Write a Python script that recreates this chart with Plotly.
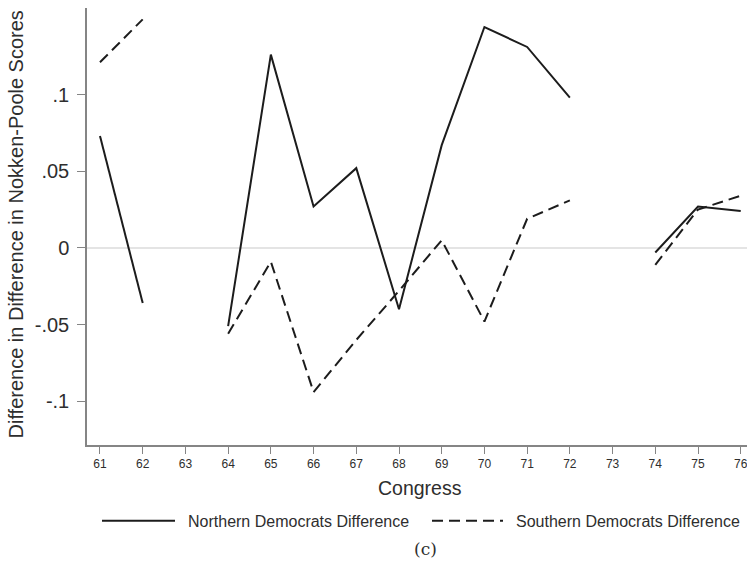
import plotly.graph_objects as go

# Congress numbers and the two difference series (None = no data for that Congress)
congress = [61, 62, 63, 64, 65, 66, 67, 68, 69, 70, 71, 72, 73, 74, 75, 76]
northern = [0.073, -0.036, None, -0.051, 0.126, 0.027, 0.052, -0.040, 0.067,
            0.144, 0.131, 0.098, None, -0.003, 0.027, 0.024]
southern = [0.121, 0.149, None, -0.056, -0.009, -0.094, -0.060, -0.028, 0.005,
            -0.048, 0.019, 0.031, None, -0.011, 0.025, 0.034]

y_ticks = [-0.1, -0.05, 0, 0.05, 0.1]
y_tick_labels = ["-.1", "-.05", "0", ".05", ".1"]

series_names = ["Northern Democrats Difference", "Southern Democrats Difference"]

LINE = "#1c1c1c"
AXIS = "#858585"
TEXT = "#2e2e2e"
FONT = "Liberation Sans, Arial, sans-serif"

fig = go.Figure()
fig.add_trace(go.Scatter(x=congress, y=northern, mode="lines", name=series_names[0],
                         line=dict(color=LINE, width=2), connectgaps=False))
fig.add_trace(go.Scatter(x=congress, y=southern, mode="lines", name=series_names[1],
                         line=dict(color=LINE, width=2, dash="11px,6px"), connectgaps=False))

W, H = 747, 562
L, R, T, B = 87, 0, 8, 117
pw = W - L - R
ph = H - T - B

fig.update_layout(
    width=W, height=H,
    margin=dict(l=L, r=R, t=T, b=B),
    paper_bgcolor="white", plot_bgcolor="white",
    showlegend=False,
    font=dict(family=FONT, color=TEXT),
    xaxis=dict(
        range=[60.696, 76.147], tickmode="array", tickvals=congress,
        ticktext=[str(c) for c in congress],
        showgrid=False, zeroline=False, showline=True, linecolor=AXIS, linewidth=1.5,
        ticks="outside", ticklen=7, tickwidth=1.3, tickcolor=AXIS,
        ticklabeloverflow="allow",
        tickfont=dict(size=12, color=TEXT, family=FONT),
    ),
    yaxis=dict(
        range=[-0.1285, 0.1564], tickmode="array", tickvals=y_ticks, ticktext=y_tick_labels,
        showgrid=False, zeroline=True, zerolinecolor="#e4e4e4", zerolinewidth=1.5,
        showline=True, linecolor=AXIS, linewidth=1.5,
        ticks="outside", ticklen=8, tickwidth=1.3, tickcolor=AXIS,
        ticklabelstandoff=4,
        tickfont=dict(size=20, color=TEXT, family=FONT),
    ),
)

annotations = [
    # y-axis title
    dict(text="Difference in Difference in Nokken-Poole Scores", xref="paper", yref="paper",
         x=0, y=0.5, xshift=-(L - 15), yshift=2, textangle=-90, showarrow=False,
         xanchor="center", yanchor="middle", font=dict(size=20, family=FONT, color=TEXT)),
    # x-axis title
    dict(text="Congress", xref="paper", yref="paper", x=(420 - L) / pw, y=0, yshift=-43,
         showarrow=False, xanchor="center", yanchor="middle",
         font=dict(size=19.5, family=FONT, color=TEXT)),
    # legend labels
    dict(text=series_names[0], xref="paper", yref="paper", x=(186 - L) / pw, y=0,
         yshift=-(521.5 - (H - B)), showarrow=False, xanchor="left", yanchor="middle",
         font=dict(size=16, family=FONT, color=TEXT)),
    dict(text=series_names[1], xref="paper", yref="paper", x=(514 - L) / pw, y=0,
         yshift=-(521.5 - (H - B)), showarrow=False, xanchor="left", yanchor="middle",
         font=dict(size=16, family=FONT, color=TEXT)),
    # panel caption
    dict(text="(c)", xref="paper", yref="paper", x=(425 - L) / pw, y=0,
         yshift=-(549 - (H - B)), showarrow=False, xanchor="center", yanchor="middle",
         font=dict(size=17, family="DejaVu Serif, Liberation Serif, serif", color=TEXT)),
]
fig.update_layout(annotations=annotations)

# legend keys drawn in pixel space below the plot
def px_x(px):
    return (px - L) / pw

def px_y(py):
    return (H - B - py) / ph

shapes = [
    dict(type="line", xref="paper", yref="paper", x0=px_x(102), x1=px_x(175),
         y0=px_y(520.7), y1=px_y(520.7), line=dict(color=LINE, width=2)),
    dict(type="line", xref="paper", yref="paper", x0=px_x(432), x1=px_x(503),
         y0=px_y(520.7), y1=px_y(520.7), line=dict(color=LINE, width=2, dash="11px,6px")),
]
fig.update_layout(shapes=shapes)

fig.write_html("out.html")
